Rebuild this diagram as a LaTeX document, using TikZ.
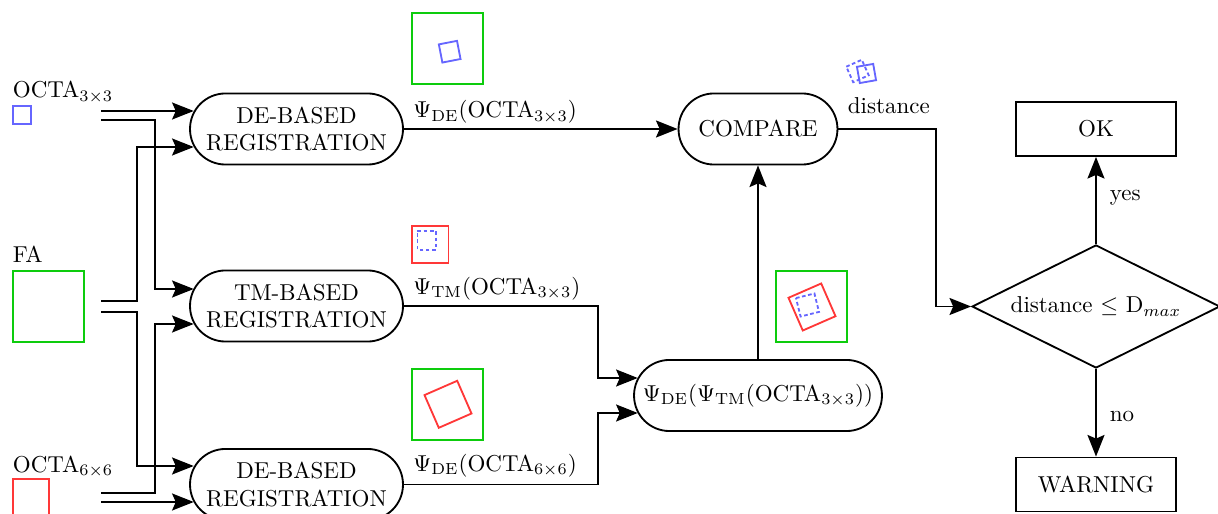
\documentclass[tikz,border=0pt]{standalone}
\usepackage{amsmath}
\usetikzlibrary{arrows.meta,shapes.geometric}
\definecolor{imgblue}{rgb}{0.4,0.4,1}
\definecolor{imgred}{rgb}{1,0.22,0.22}
\definecolor{imggreen}{rgb}{0.05,0.8,0.05}
% square outline of side #4 centred at (#2,#3), turned by #5 degrees
\newcommand{\imgsquare}[5][]{%
  \draw[#1, shift={(#2,#3)}, rotate=#5]
    (-#4/2,-#4/2) -- (#4/2,-#4/2) -- (#4/2,#4/2) -- (-#4/2,#4/2) -- cycle;}
\begin{document}
\begin{tikzpicture}[x=0.4348pt,y=-0.4348pt,
  line width=0.8pt,
  flow/.style={-{Stealth[length=9.4pt,width=7.4pt,inset=1.6pt]}},
  regbox/.style={draw,rounded corners=15.4pt,minimum width=92.6pt,
    minimum height=30.9pt,align=center,inner sep=0pt},
  plainbox/.style={draw,minimum width=69.6pt,minimum height=23.5pt,inner sep=0pt},
  decision/.style={draw,diamond,aspect=2,minimum width=107.8pt,minimum height=53.5pt,
    inner sep=0pt},
  lbl/.style={anchor=base west,inner sep=0pt},
  icon/.style={line width=0.8pt},
  dsh/.style={icon,dash pattern=on 1.6pt off 1.1pt}]
\useasboundingbox (0,0) rectangle (1218,514);
\clip (0,0) rectangle (1218,514);

% inputs
\node[lbl] (o3lbl) at (12,98) {OCTA$_{3\times 3}$};
\imgsquare[icon,imgblue]{21.8}{115}{18.3}{0}
\node[lbl] (falbl) at (12,262.5) {FA};
\imgsquare[icon,imggreen]{48.4}{306.6}{71.3}{0}
\node[lbl] (o6lbl) at (12,472.5) {OCTA$_{6\times 6}$};
\imgsquare[icon,imgred]{30.8}{497}{36}{0}

\coordinate (o3a) at (101,111);
\coordinate (o3b) at (101,120);
\coordinate (faa) at (101,301);
\coordinate (fab) at (101,312);
\coordinate (o6a) at (101,493);
\coordinate (o6b) at (101,502);

% registration stages
\node[regbox] (de1) at (296.5,129) {DE-BASED\\REGISTRATION};
\node[regbox] (tm)  at (296.5,306)   {TM-BASED\\REGISTRATION};
\node[regbox] (de2) at (296.5,484.5) {DE-BASED\\REGISTRATION};
\node[regbox,minimum width=69.1pt] (cmp) at (758,129) {COMPARE};
\node[regbox,minimum width=107.8pt] (comb) at (758,395.5)
  {$\Psi_{\mathrm{DE}}(\Psi_{\mathrm{TM}}(\mathrm{OCTA}_{3\times 3}))$};
\node[plainbox] (ok) at (1096,129) {OK};
\node[decision] (dec) at (1096,306.5) {distance $\leq$ D$_{max}$};
\node[plainbox] (warn) at (1096,484.5) {WARNING};

% entry points on the rounded sides
\coordinate (de1a) at ([xshift=2pt]de1.west |- 0,111);
\coordinate (de1b) at ([xshift=2pt]de1.west |- 0,147);
\coordinate (tma)  at ([xshift=2pt]tm.west |- 0,289);
\coordinate (tmb)  at ([xshift=2pt]tm.west |- 0,324);
\coordinate (de2a) at ([xshift=2pt]de2.west |- 0,466);
\coordinate (de2b) at ([xshift=2pt]de2.west |- 0,502);
\coordinate (comba) at ([xshift=2pt]comb.west |- 0,378);
\coordinate (combb) at ([xshift=2pt]comb.west |- 0,413);

% input wiring
\draw[flow] (o3a) -- (de1a);
\draw[flow] (o3b) -- (155,120) |- (tma);
\draw[flow] (faa) -- (137,301) |- (de1b);
\draw[flow] (fab) -- (137,312) |- (de2a);
\draw[flow] (o6a) -- (155,493) |- (tmb);
\draw[flow] (o6b) -- (de2b);

% registration outputs
\draw[flow] (de1.east) -- (cmp.west);
\draw[flow] (tm.east) -- (598,306) |- (comba);
\draw[flow] (de2.east) -- (598,484.5) |- (combb);
\draw[flow] (comb.north) -- (cmp.south);
\draw[flow] (cmp.east) -- (936,129) |- (dec.west);
\draw[flow] (dec.north) -- (ok.south);
\draw[flow] (dec.south) -- (warn.north);

% edge labels
\node[lbl] (l1) at (412.5,118) {$\Psi_{\mathrm{DE}}(\mathrm{OCTA}_{3\times 3})$};
\node[lbl] (l2) at (412.5,294.5) {$\Psi_{\mathrm{TM}}(\mathrm{OCTA}_{3\times 3})$};
\node[lbl] (l3) at (412.5,471.5) {$\Psi_{\mathrm{DE}}(\mathrm{OCTA}_{6\times 6})$};
\node[lbl] (l4) at (847,114) {distance};
\node[lbl] (l5) at (1109,200.5) {yes};
\node[lbl] (l6) at (1109,422) {no};

% thumbnails of the registered images
\imgsquare[icon,imggreen]{447.8}{48.8}{71}{0}
\imgsquare[icon,imgblue]{449.7}{51.7}{18.5}{11}

\imgsquare[icon,imgred]{430.3}{244.5}{36.5}{0}
\imgsquare[dsh,imgblue]{426.7}{240.5}{18.5}{0}

\imgsquare[icon,imggreen]{811.5}{306.5}{71}{0}
\imgsquare[icon,imgred]{812}{307}{35.7}{23.6}
\imgsquare[dsh,imgblue]{807.5}{305}{19}{14}

\imgsquare[icon,imggreen]{447.8}{404.2}{71}{0}
\imgsquare[icon,imgred]{448}{404.3}{35.7}{23.6}

\imgsquare[dsh,imgblue]{857.5}{71}{17}{24}
\imgsquare[icon,imgblue]{866.5}{73.5}{16.5}{10}
\end{tikzpicture}
\end{document}
